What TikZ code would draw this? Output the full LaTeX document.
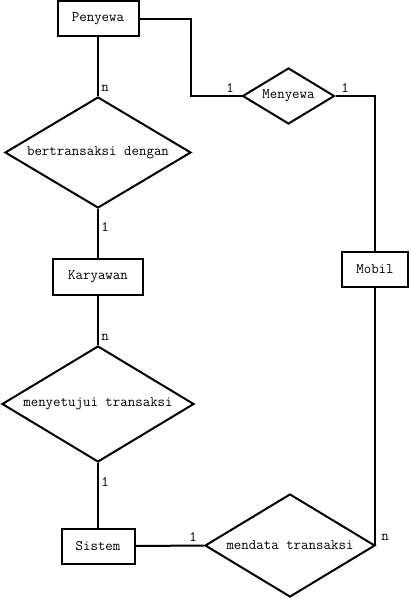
\documentclass[tikz,border=0pt]{standalone}
\usetikzlibrary{shapes.geometric}
\begin{document}
\begin{tikzpicture}[x=1pt,y=-1pt,
  every node/.style={font=\ttfamily\fontsize{14.5}{16}\selectfont},
  ent/.style={draw,line width=2pt,rectangle,inner sep=0pt},
  rel/.style={draw,line width=2pt,diamond,inner sep=0pt},
  card/.style={inner sep=0pt},
  conn/.style={line width=2pt}]
\useasboundingbox (0,0) rectangle (411,599);
% entities
\node[ent,minimum width=81pt,minimum height=35pt] (pen) at (98,19) {Penyewa};
\node[ent,minimum width=90pt,minimum height=36pt] (kar) at (98,276.5) {Karyawan};
\node[ent,minimum width=66pt,minimum height=35pt] (mob) at (375,269) {Mobil};
\node[ent,minimum width=73pt,minimum height=35pt] (sis) at (98,546) {Sistem};
% relationships
\node[rel,minimum width=92pt,minimum height=56pt,label={center:Menyewa}] (mw) at (288.5,96) {};
\node[rel,minimum width=186pt,minimum height=111pt,label={center:bertransaksi dengan}] (bd) at (98,152.5) {};
\node[rel,minimum width=192pt,minimum height=116pt,label={center:menyetujui transaksi}] (mt) at (98,404) {};
\node[rel,minimum width=170pt,minimum height=103pt,label={center:mendata transaksi}] (md) at (290,545.5) {};
% connectors
\draw[conn] (pen.south) -- (bd.north);
\draw[conn] (pen.east) -- ++(51,0) |- (mw.west);
\draw[conn] (mw.east) -| (mob.north);
\draw[conn] (mob.south) -- (mob.south |- md.east);
\draw[conn] (bd.south) -- (kar.north);
\draw[conn] (kar.south) -- (mt.north);
\draw[conn] (mt.south) -- (sis.north);
\draw[conn] (sis.east) -- (md.west);
% cardinalities
\node[card] (c1) at (105,88) {n};
\node[card] (c2) at (230,88) {1};
\node[card] (c3) at (345,88) {1};
\node[card] (c4) at (105,227) {1};
\node[card] (c5) at (105,337) {n};
\node[card] (c6) at (105,482) {1};
\node[card] (c7) at (193,537) {1};
\node[card] (c8) at (385,537) {n};
\end{tikzpicture}
\end{document}
